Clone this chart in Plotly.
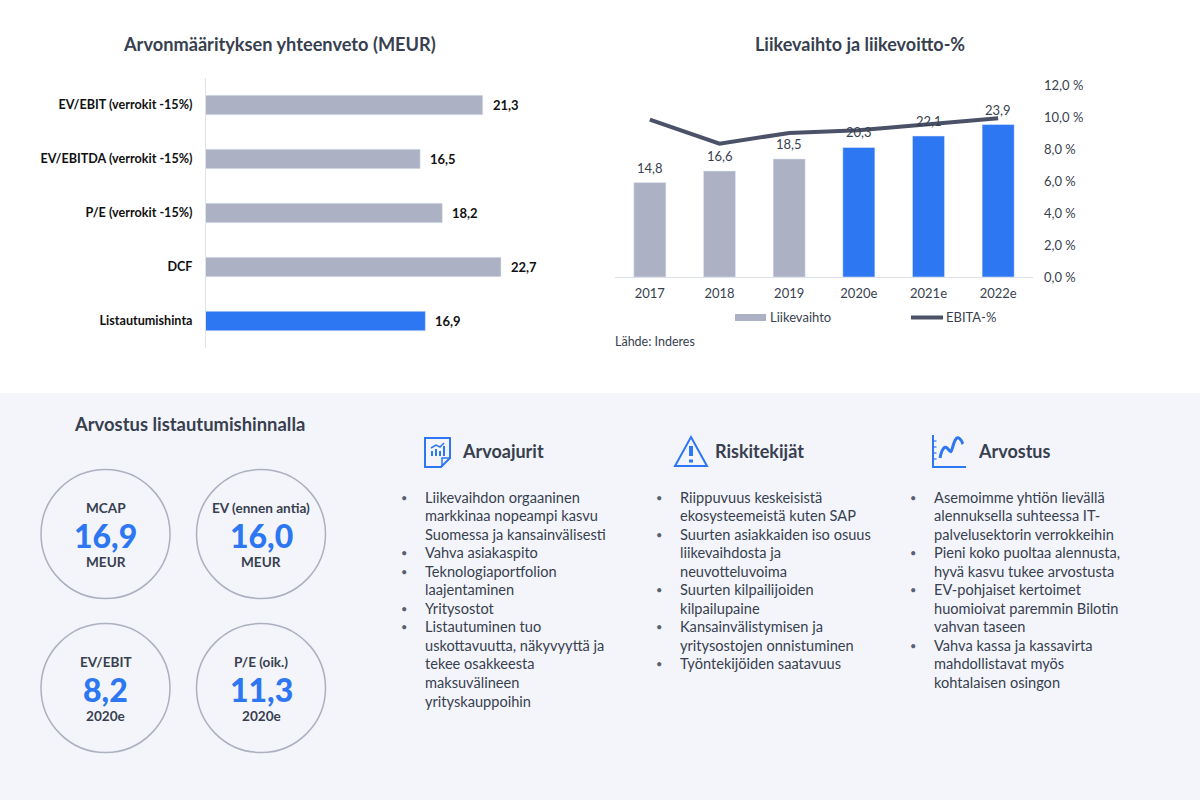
import plotly.graph_objects as go

# --- data ---
val_labels = ["EV/EBIT (verrokit -15%)", "EV/EBITDA (verrokit -15%)", "P/E (verrokit -15%)", "DCF", "Listautumishinta"]
val_values = [21.3, 16.5, 18.2, 22.7, 16.9]
val_colors = ["#acb1c3", "#acb1c3", "#acb1c3", "#acb1c3", "#2e77f3"]

years = ["2017", "2018", "2019", "2020e", "2021e", "2022e"]
revenue = [14.8, 16.6, 18.5, 20.3, 22.1, 23.9]
rev_colors = ["#acb1c3", "#acb1c3", "#acb1c3", "#2e77f3", "#2e77f3", "#2e77f3"]
ebita_pct = [9.86, 8.36, 9.03, 9.2, 9.57, 9.96]
pct_ticks = [0, 2, 4, 6, 8, 10, 12]
pct_labels = ["0,0 %", "2,0 %", "4,0 %", "6,0 %", "8,0 %", "10,0 %", "12,0 %"]

circle_top = ["MCAP", "EV (ennen antia)", "EV/EBIT", "P/E (oik.)"]
circle_mid = ["16,9", "16,0", "8,2", "11,3"]
circle_bot = ["MEUR", "MEUR", "2020e", "2020e"]

arvoajurit = [
    ["Liikevaihdon orgaaninen", "markkinaa nopeampi kasvu", "Suomessa ja kansainvälisesti"],
    ["Vahva asiakaspito"],
    ["Teknologiaportfolion", "laajentaminen"],
    ["Yritysostot"],
    ["Listautuminen tuo", "uskottavuutta, näkyvyyttä ja", "tekee osakkeesta", "maksuvälineen", "yrityskauppoihin"],
]
riskit = [
    ["Riippuvuus keskeisistä", "ekosysteemeistä kuten SAP"],
    ["Suurten asiakkaiden iso osuus", "liikevaihdosta ja", "neuvotteluvoima"],
    ["Suurten kilpailijoiden", "kilpailupaine"],
    ["Kansainvälistymisen ja", "yritysostojen onnistuminen"],
    ["Työntekijöiden saatavuus"],
]
arvostus = [
    ["Asemoimme yhtiön lievällä", "alennuksella suhteessa IT-", "palvelusektorin verrokkeihin"],
    ["Pieni koko puoltaa alennusta,", "hyvä kasvu tukee arvostusta"],
    ["EV-pohjaiset kertoimet", "huomioivat paremmin Bilotin", "vahvan taseen"],
    ["Vahva kassa ja kassavirta", "mahdollistavat myös", "kohtalaisen osingon"],
]

FONT = "Lato"
DARK = "#383f4f"
BLUE = "#2e77f3"
W, H = 1200, 800


def px(x):
    return x / W


def py(y):
    return 1 - y / H


def path(*parts):
    # parts are commands and pixel points, e.g. "M", (1, 2), "L", (3, 4)
    out = ""
    for p in parts:
        out += p if isinstance(p, str) else f"{px(p[0]):.5f},{py(p[1]):.5f} "
    return out


annotations = []
shapes = []


def text(x, y, s, size=14, color=DARK, bold=False, anchor="left"):
    annotations.append(dict(
        x=px(x), y=py(y), xref="paper", yref="paper", text=s, showarrow=False,
        xanchor=anchor, yanchor="middle", borderpad=0,
        font=dict(family=FONT, size=size, color=color, weight=bold if bold else 400),
    ))


def line_shape(d, color=BLUE, width=2, fill=None):
    shapes.append(dict(type="path", path=d, xref="paper", yref="paper",
                       line=dict(color=color, width=width),
                       fillcolor=fill if fill else "rgba(0,0,0,0)"))


fig = go.Figure()

# left chart
fig.add_trace(go.Bar(x=val_values, y=val_labels, orientation="h", marker_color=val_colors,
                     xaxis="x", yaxis="y", showlegend=False))
for lab, v in zip(val_labels, val_values):
    annotations.append(dict(x=v, y=lab, xref="x", yref="y", text=f"{v:.1f}".replace(".", ","),
                            showarrow=False, xanchor="left", xshift=8,
                            font=dict(family=FONT, size=13, color="#111111", weight=700)))

# right chart
fig.add_trace(go.Bar(x=years, y=revenue, marker_color=rev_colors, xaxis="x2", yaxis="y2",
                     showlegend=False))
fig.add_trace(go.Scatter(x=years, y=ebita_pct, mode="lines", xaxis="x2", yaxis="y3",
                         line=dict(color="#4b5268", width=4), showlegend=False))
for i, v in enumerate(revenue):
    annotations.append(dict(x=i, y=v, xref="x2", yref="y2", text=f"{v:.1f}".replace(".", ","),
                            showarrow=False, yanchor="bottom", yshift=5,
                            font=dict(family=FONT, size=13, color=DARK)))

# titles
text(279.5, 44, "Arvonmäärityksen yhteenveto (MEUR)", 18.2, bold=700, anchor="center")
text(860, 44, "Liikevaihto ja liikevoitto-%", 18, bold=700, anchor="center")

# legend and source of the right chart
shapes.append(dict(type="rect", xref="paper", yref="paper", x0=px(735), x1=px(766), y0=py(321), y1=py(314),
                   fillcolor="#acb1c3", line_width=0))
text(769, 317, "Liikevaihto", 13)
line_shape(path("M", (911, 317.5), "L", (943, 317.5)), "#4b5268", 4)
text(945, 317, "EBITA-%", 13)
text(614, 341, "Lähde: Inderes", 12.5)

# lower panel
shapes.append(dict(type="rect", xref="paper", yref="paper", x0=0, x1=1, y0=0, y1=py(393),
                   fillcolor="#f3f5fb", line_width=0, layer="below"))
text(189, 424, "Arvostus listautumishinnalla", 18.4, bold=700, anchor="center")

centers = [(105.5, 534), (261, 534), (105.5, 688), (261, 688)]
R = 64.5
for (cx, cy), top, mid, bot in zip(centers, circle_top, circle_mid, circle_bot):
    shapes.append(dict(type="circle", xref="paper", yref="paper", x0=px(cx - R), x1=px(cx + R),
                       y0=py(cy + R), y1=py(cy - R), line=dict(color="#acb0bf", width=1.5)))
    text(cx, cy - 26, top, 13.6, bold=700, anchor="center")
    text(cx, cy + 1, mid, 32, BLUE, bold=900, anchor="center")
    text(cx, cy + 28, bot, 13.6, bold=700, anchor="center")


def bullets(x_bullet, x_text, items, y0=497, step=18.55):
    n = 0
    for item in items:
        text(x_bullet, y0 + n * step, "•", 11, "#5a6070", anchor="center")
        for ln in item:
            text(x_text, y0 + n * step, ln, 14.6)
            n += 1


bullets(404, 424, arvoajurit)
bullets(659, 679, riskit)
bullets(913, 933, arvostus)

text(461, 451.5, "Arvoajurit", 18, bold=700)
text(714, 451.5, "Riskitekijät", 18, bold=700)
text(977, 451.5, "Arvostus", 18, bold=700)

# icon: document with chart
line_shape(path("M", (425, 438), "L", (450, 438), "L", (450, 458), "L", (441, 467), "L", (425, 467), "Z"))
line_shape(path("M", (450, 458), "L", (442, 458), "L", (442, 467)), width=1.5)
line_shape(path("M", (432, 456), "L", (432, 451)), width=2)
line_shape(path("M", (436, 456), "L", (436, 449)), width=2)
line_shape(path("M", (440, 456), "L", (440, 451)), width=2)
line_shape(path("M", (444, 456), "L", (444, 446)), width=2)
line_shape(path("M", (431, 448), "L", (436, 445), "L", (440, 447), "L", (444, 443)), width=1.5)

# icon: warning triangle
line_shape(path("M", (691, 437), "L", (707, 466), "L", (675, 466), "Z"))
line_shape(path("M", (691, 446), "L", (691, 456)), width=4)
line_shape(path("M", (691, 459.5), "L", (691, 462.5)), width=4)

# icon: curve on axes
line_shape(path("M", (933, 435), "L", (933, 467), "L", (966, 467)))
for ty in [441, 447, 453, 459]:
    line_shape(path("M", (933, ty), "L", (936.5, ty)), width=1.2)
line_shape(path("M", (940, 458), "C", (942, 448), (945, 445), (948, 449), "S", (951, 453), (953, 446),
                "S", (957, 436), (960, 439), "S", (962, 443), (963, 444)), width=3)

fig.update_layout(
    autosize=False, width=W, height=H, margin=dict(l=0, r=0, t=0, b=0, autoexpand=False),
    paper_bgcolor="white", plot_bgcolor="rgba(0,0,0,0)",
    font=dict(family=FONT, color=DARK),
    annotations=annotations, shapes=shapes,
    xaxis=dict(domain=[px(205), px(530)], range=[0, 325 / 13.04], visible=False, automargin=False),
    yaxis=dict(domain=[py(348), py(78)], autorange="reversed", anchor="free", position=px(205),
               showline=True, linecolor="#dfe2ea", linewidth=1, ticks="", ticklabelstandoff=10,
               automargin=False, showgrid=False,
               tickfont=dict(family=FONT, size=12.6, color="#111111", weight=700)),
    xaxis2=dict(domain=[px(615), px(1033)], anchor="y2", type="category", categoryarray=years,
                range=[-0.5, 5.5], showline=True, linecolor="#dde1ec", linewidth=1, ticks="",
                ticklabelstandoff=4, automargin=False, showgrid=False,
                tickfont=dict(family=FONT, size=13, color=DARK)),
    yaxis2=dict(domain=[py(277), py(85.6)], range=[0, 30], visible=False, anchor="x2", automargin=False),
    yaxis3=dict(domain=[py(277), py(85.6)], range=[0, 12], overlaying="y2", side="right", anchor="x2",
                tickvals=pct_ticks, ticktext=pct_labels, showline=False, showgrid=False, automargin=False,
                zeroline=False, ticks="", ticklabelstandoff=10, tickfont=dict(family=FONT, size=13, color=DARK)),
)

# left bars are thinner than the right ones relative to their band
fig.update_traces(width=0.36, selector=dict(xaxis="x"))
fig.update_traces(width=0.46, selector=dict(xaxis="x2", type="bar"))

fig.write_html("out.html", config=dict(displayModeBar=False, responsive=False),
               post_script="document.body.style.margin='0';document.documentElement.style.overflow='hidden';")
